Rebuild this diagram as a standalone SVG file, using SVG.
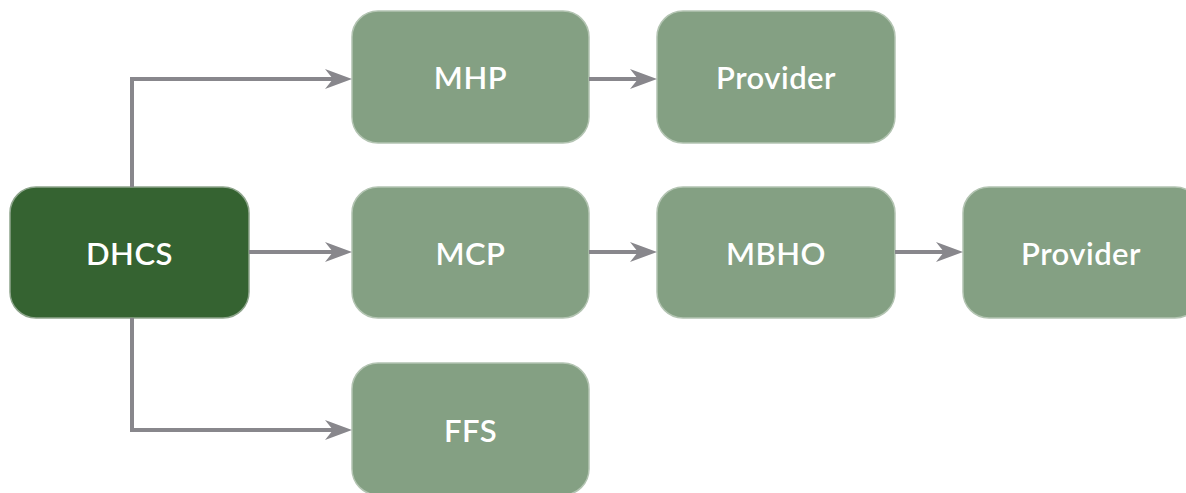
<svg xmlns="http://www.w3.org/2000/svg" width="1186" height="493" viewBox="0 0 1186 493">
  <style>
    .node rect { fill: #84a083; stroke: #b3c4b2; stroke-width: 1.5; }
    .node.root rect { fill: #356331; stroke: #8ea58c; }
    .node text { fill: #ffffff; font-family: Lato, "Noto Sans", "Liberation Sans", sans-serif; font-size: 31px; font-weight: 600; text-anchor: middle; letter-spacing: 0.5px; }
    .conn { fill: none; stroke: #88878c; stroke-width: 4; }
  </style>
  <defs>
    <marker id="arr" markerUnits="userSpaceOnUse" markerWidth="28" markerHeight="22" viewBox="0 0 28 22" refX="15" refY="11" orient="auto">
      <path d="M0,1 L27,11 L0,21 L8,11 Z" fill="#88878c"/>
    </marker>
  </defs>
  <rect width="1186" height="493" fill="#ffffff"/>
  <g id="n-dhcs" class="node root">
    <rect x="10" y="187" width="239" height="131" rx="26"/>
    <text x="129.5" y="265">DHCS</text>
  </g>
  <g id="n-mhp" class="node">
    <rect x="352" y="11" width="237" height="132" rx="26"/>
    <text x="470.5" y="89">MHP</text>
  </g>
  <g id="n-prov1" class="node">
    <rect x="657" y="11" width="238" height="132" rx="26"/>
    <text x="776" y="89">Provider</text>
  </g>
  <g id="n-mcp" class="node">
    <rect x="352" y="187" width="237" height="131" rx="26"/>
    <text x="470.5" y="265">MCP</text>
  </g>
  <g id="n-mbho" class="node">
    <rect x="657" y="187" width="238" height="131" rx="26"/>
    <text x="776" y="265">MBHO</text>
  </g>
  <g id="n-prov2" class="node">
    <rect x="963" y="187" width="238" height="131" rx="26"/>
    <text x="1081" y="265">Provider</text>
  </g>
  <g id="n-ffs" class="node">
    <rect x="352" y="363" width="237" height="132" rx="26"/>
    <text x="470.5" y="442">FFS</text>
  </g>
  <g id="connectors">
    <path class="conn" d="M132,187 V79 H340" marker-end="url(#arr)"/>
    <path class="conn" d="M249,252 H340" marker-end="url(#arr)"/>
    <path class="conn" d="M132,318 V430 H340" marker-end="url(#arr)"/>
    <path class="conn" d="M589,79 H645" marker-end="url(#arr)"/>
    <path class="conn" d="M589,252 H645" marker-end="url(#arr)"/>
    <path class="conn" d="M895,252 H951" marker-end="url(#arr)"/>
  </g>
</svg>
